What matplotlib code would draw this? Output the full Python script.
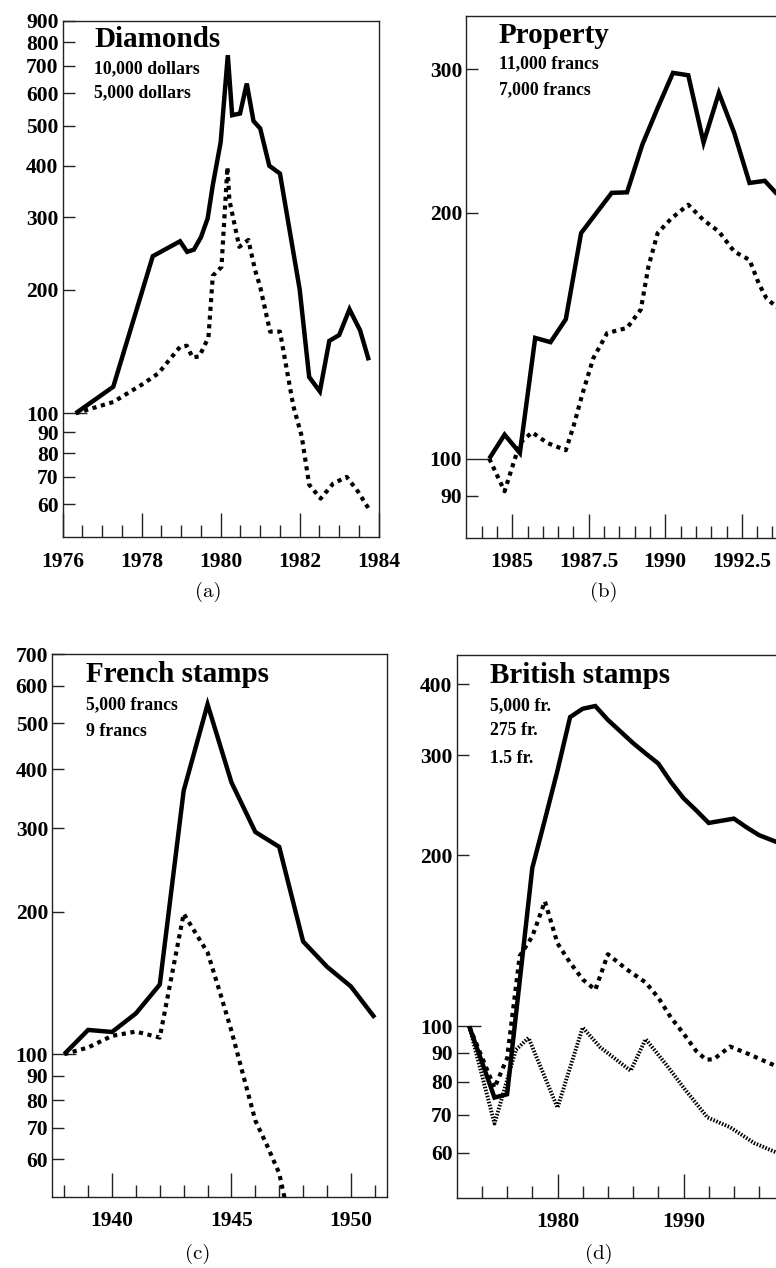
import matplotlib
matplotlib.use('Agg')
import matplotlib.pyplot as plt
from matplotlib.ticker import FixedLocator, FixedFormatter

# ---------------- data ----------------
# (a) Diamonds
dia_10k_years = [1976.33, 1977.28, 1978.28, 1978.97, 1979.15, 1979.32, 1979.50, 1979.67, 1979.80,
                 1980.0, 1980.18, 1980.29, 1980.49, 1980.66, 1980.83, 1981.0, 1981.23, 1981.50,
                 1982.0, 1982.24, 1982.51, 1982.75, 1983.0, 1983.26, 1983.53, 1983.75]
dia_10k = [100, 116, 241, 262, 247, 250, 268, 298, 359,
           457, 743, 531, 536, 634, 514, 493, 400, 383,
           200, 122.5, 113, 150, 155, 179, 159, 134.5]
dia_5k_years = [1976.33, 1977.28, 1978.04, 1978.42, 1978.97, 1979.14, 1979.29, 1979.46, 1979.69,
                1979.80, 1980.02, 1980.17, 1980.22, 1980.47, 1980.70, 1980.87, 1981.0, 1981.25,
                1981.50, 1981.84, 1982.05, 1982.24, 1982.53, 1982.85, 1983.19, 1983.48, 1983.76]
dia_5k = [100, 106.5, 118, 125, 145, 146, 136.6, 137.6, 153,
          216, 227, 397, 330, 254, 264, 223, 203, 158,
          158, 104, 88, 67, 62, 67.5, 70, 64.4, 58.3]

# (b) Property
prop_11k_years = [1984.25, 1984.75, 1985.25, 1985.75, 1986.25, 1986.75, 1987.25, 1988.25, 1988.75,
                  1989.25, 1989.75, 1990.25, 1990.75, 1991.25, 1991.75, 1992.25, 1992.75, 1993.25,
                  1993.75]
prop_11k = [100, 107, 101.6, 140.6, 138.9, 148.2, 189, 211.7, 212,
            242.6, 269, 297, 295, 244, 280.6, 250.8, 217.7, 219,
            209]
prop_7k_years = [1984.25, 1984.75, 1985.25, 1985.65, 1986.15, 1986.75, 1987.0, 1987.3, 1987.65,
                 1988.1, 1988.75, 1989.2, 1989.45, 1989.75, 1990.2, 1990.75, 1991.25, 1991.75,
                 1992.25, 1992.75, 1993.05, 1993.3, 1993.75]
prop_7k = [100, 91.2, 104.5, 107.7, 104.5, 102.4, 109.5, 120.3, 132.8,
           142.5, 144.6, 152.3, 172, 189, 197, 204.7, 196, 189.8,
           179.4, 175.2, 164, 157.3, 152]

# (c) French stamps
fr_5000_years = [1938, 1939, 1940, 1941, 1942, 1943, 1944, 1945, 1946, 1947, 1948, 1949, 1950, 1951]
fr_5000 = [100, 112.5, 111.4, 121.9, 140.3, 360, 548, 375, 294.6, 274, 173, 153, 139, 119.4]
fr_9_years = [1938, 1939, 1940, 1941, 1942, 1943, 1944, 1944.5, 1945, 1945.5, 1946, 1946.5, 1947, 1947.25]
fr_9 = [100, 103.3, 109.3, 111.6, 108.4, 198, 164, 136, 112, 90, 72.4, 64, 56, 49]

# (d) British stamps
gb_5000_years = [1973, 1975, 1976, 1978, 1979, 1980, 1981, 1982, 1983, 1984, 1986, 1987, 1988,
                 1989, 1990, 1991, 1992, 1994, 1995, 1996, 1997.4, 1998]
gb_5000 = [100, 75, 76, 190, 231, 282, 350, 362, 366, 346, 315, 302, 290,
           269, 252, 240, 228, 232, 224, 217, 211, 207]
gb_275_years = [1973, 1975, 1976, 1977, 1978, 1979, 1980, 1981, 1982, 1983, 1984, 1985.5, 1987,
                1988, 1989, 1990, 1991, 1991.8, 1992.4, 1993.7, 1995.2, 1996.4, 1997.4, 1998]
gb_275 = [100, 78, 88, 133, 144, 166, 140, 129.5, 121, 116, 134, 126, 119.5,
          112.4, 103.7, 97.2, 90.6, 87.4, 87.6, 92.2, 89.4, 87, 85.1, 84]
gb_15_years = [1973, 1975, 1976.7, 1977.7, 1980, 1982, 1983.4, 1985.8, 1987, 1988.7, 1990.1,
               1991.9, 1993.7, 1995.6, 1997.4, 1998]
gb_15 = [100, 67.5, 91, 95.5, 72, 99.6, 91.9, 83.6, 95, 85.3, 77.6,
         69.2, 66.5, 62.4, 60, 59]

# ---------------- style ----------------
plt.rcParams['font.family'] = ['Liberation Serif', 'DejaVu Serif']
plt.rcParams['font.weight'] = 'bold'

W, H = 776, 1268
fig = plt.figure(figsize=(W / 100, H / 100), dpi=100)


def box(L, T, R, B):
    return [L / W, 1 - B / H, (R - L) / W, (B - T) / H]


SOLID = dict(color='black', lw=3.2, solid_joinstyle='miter', solid_capstyle='butt')
DOTS = dict(color='black', lw=3.0, linestyle=(0, (1, 1.1)), dash_capstyle='butt')
FINE = dict(color='black', lw=2.8, linestyle=(0, (0.4, 0.4)), dash_capstyle='butt')

TICKFS = 15.5


def setup(ax, xlim, ylim, xmaj, xmaj_labels, xmin, ymaj, ymin):
    ax.set_yscale('log')
    ax.set_xlim(*xlim)
    ax.set_ylim(*ylim)
    ax.xaxis.set_major_locator(FixedLocator(xmaj))
    ax.xaxis.set_major_formatter(FixedFormatter(xmaj_labels))
    ax.xaxis.set_minor_locator(FixedLocator(xmin))
    ax.xaxis.set_minor_formatter(FixedFormatter([''] * len(xmin)))
    ax.yaxis.set_major_locator(FixedLocator(ymaj))
    ax.yaxis.set_major_formatter(FixedFormatter([str(v) for v in ymaj]))
    ax.yaxis.set_minor_locator(FixedLocator(ymin))
    ax.yaxis.set_minor_formatter(FixedFormatter([str(v) for v in ymin]))
    ax.tick_params(which='both', direction='in', width=1.0, color='#222222',
                   top=False, right=False, labelsize=TICKFS)
    ax.tick_params(which='major', length=17)
    ax.tick_params(which='minor', length=8.6)
    ax.tick_params(axis='x', which='both', pad=10.5)
    ax.tick_params(axis='y', which='both', pad=3.0)
    for s in ax.spines.values():
        s.set_linewidth(1.0)
        s.set_color('#222222')


def label_block(title, lines, x, ty, ly):
    fig.text(x / W, 1 - ty / H, title, fontsize=21, fontweight='bold', ha='left', va='baseline')
    for t, y in zip(lines, ly):
        fig.text(x / W, 1 - y / H, t, fontsize=12.8, fontweight='bold', ha='left', va='baseline')


def panel_label(t, x, y):
    fig.text(x / W, 1 - y / H, t, fontsize=15, fontfamily='cmr10', fontweight='normal',
             ha='center', va='center')


# (a) Diamonds
ax = fig.add_axes(box(62.7, 21, 378.7, 537))
setup(ax, (1976, 1984), (50, 900),
      [1976, 1978, 1980, 1982, 1984], ['1976', '1978', '1980', '1982', '1984'],
      [1976.5 + 0.5 * i for i in range(15) if (1976.5 + 0.5 * i) % 2 != 0],
      [100], [60, 70, 80, 90, 200, 300, 400, 500, 600, 700, 800, 900])
ax.plot(dia_10k_years, dia_10k, **SOLID)
ax.plot(dia_5k_years, dia_5k, **DOTS)
label_block('Diamonds', ['10,000 dollars', '5,000 dollars'], 94, 46.7, [73.3, 97.7])
panel_label('(a)', 208, 592)

# (b) Property
ax = fig.add_axes(box(466.3, 15.7, 833.7, 537.7))
setup(ax, (1983.5, 1995.5), (80, 349),
      [1985, 1987.5, 1990, 1992.5, 1995], ['1985', '1987.5', '1990', '1992.5', ''],
      [1984 + 0.5 * i for i in range(24) if (1984 + 0.5 * i) % 2.5 != 0],
      [100], [90, 200, 300])
ax.plot(prop_11k_years, prop_11k, **SOLID)
ax.plot(prop_7k_years, prop_7k, **DOTS)
label_block('Property', ['11,000 francs', '7,000 francs'], 499, 43.3, [68.3, 94])
panel_label('(b)', 604, 592)

# (c) French stamps
ax = fig.add_axes(box(52.3, 654, 386.7, 1196.7))
setup(ax, (1937.5, 1951.5), (50, 700),
      [1940, 1945, 1950], ['1940', '1945', '1950'],
      [y for y in range(1938, 1952) if y % 5 != 0],
      [100], [60, 70, 80, 90, 200, 300, 400, 500, 600, 700])
ax.plot(fr_5000_years, fr_5000, **SOLID)
ax.plot(fr_9_years, fr_9, **DOTS)
label_block('French stamps', ['5,000 francs', '9 francs'], 86, 681.7, [709, 735.7])
panel_label('(c)', 198, 1254)

# (d) British stamps
ax = fig.add_axes(box(456.7, 655, 809.5, 1197.7))
setup(ax, (1972, 2000), (50, 450),
      [1980, 1990, 2000], ['1980', '1990', ''],
      [y for y in range(1974, 2000, 2) if y % 10 != 0],
      [100], [60, 70, 80, 90, 200, 300, 400])
ax.plot(gb_5000_years, gb_5000, **SOLID)
ax.plot(gb_275_years, gb_275, **DOTS)
ax.plot(gb_15_years, gb_15, **FINE)
label_block('British stamps', ['5,000 fr.', '275 fr.', '1.5 fr.'], 490, 682.7, [710.7, 735, 763.3])
panel_label('(d)', 599, 1254)

fig.savefig('out.png', dpi=100)
